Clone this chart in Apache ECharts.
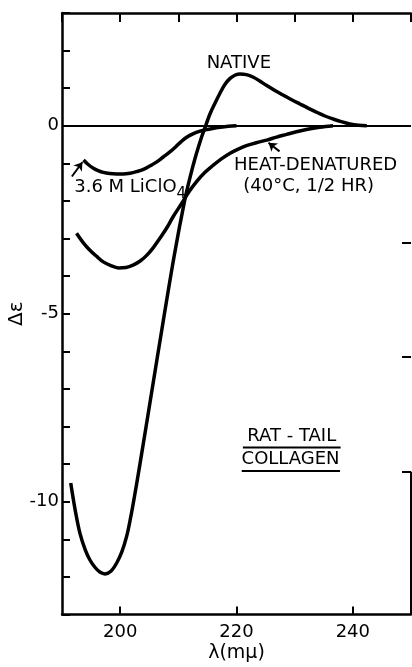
<!DOCTYPE html>
<html><head><meta charset="utf-8">
<script src="https://cdn.jsdelivr.net/npm/echarts@6/dist/echarts.min.js"></script>
<style>html,body{margin:0;padding:0;background:#fff}#c{width:412px;height:667px}</style>
</head><body><div id="c"></div>
<script>
// ---- data ----
const nativeWl = [191.5,192.3,193.1,194.0,194.8,195.7,196.5,197.4,198.4,199.4,200.3,201.1,201.7,202.3,203.4,205.4,207.4,209.3,211.1,212.0,213.0,214.0,214.7,215.4,216.3,217.2,218.0,218.9,219.8,220.6,221.7,222.9,224.0,225.2,226.6,228.0,229.4,230.9,232.3,233.8,235.2,236.6,238.0,239.5,241.0,242.4];
const nativeDe = [-9.5,-10.25,-10.85,-11.28,-11.55,-11.75,-11.87,-11.92,-11.85,-11.63,-11.33,-10.93,-10.5,-10.0,-9.0,-7.1,-5.2,-3.45,-1.98,-1.38,-0.8,-0.3,0.0,0.3,0.6,0.88,1.1,1.26,1.35,1.38,1.36,1.29,1.19,1.07,0.94,0.82,0.70,0.58,0.47,0.36,0.26,0.18,0.11,0.05,0.015,0];

const heatWl = [192.5,193.6,194.8,196.0,197.1,198.4,199.7,201.0,202.3,203.5,204.6,205.7,206.8,208.0,209.1,210.6,211.8,213.1,214.5,216.0,217.4,218.9,220.3,221.7,223.4,225.2,226.9,228.6,230.3,232.0,234.3,236.6];
const heatDe = [-2.86,-3.1,-3.31,-3.48,-3.62,-3.72,-3.78,-3.77,-3.70,-3.59,-3.44,-3.24,-3.0,-2.72,-2.42,-2.06,-1.76,-1.49,-1.25,-1.05,-0.88,-0.73,-0.62,-0.53,-0.45,-0.38,-0.30,-0.23,-0.16,-0.10,-0.04,0];

const licl4Wl = [193.7,194.5,195.4,196.2,197.1,198.2,199.4,200.5,201.7,202.8,204.0,205.1,206.3,207.4,208.6,209.6,210.5,211.5,212.6,213.6,214.6,215.9,217.2,218.6,220.0];
const licl4De = [-0.91,-1.03,-1.13,-1.19,-1.24,-1.27,-1.28,-1.28,-1.26,-1.22,-1.16,-1.07,-0.96,-0.83,-0.69,-0.55,-0.42,-0.30,-0.21,-0.15,-0.11,-0.07,-0.04,-0.015,0];

const xTickLabels = [200,220,240];
const yTickLabels = [0,-5,-10];
const rightTicks = [-3.1,-6.15,-9.2];

// annotation anchors in data coordinates
const notes = [
  {text:'NATIVE', x:220.4, y:1.66, align:'center'},
  {text:'HEAT-DENATURED', x:233.6, y:-1.05, align:'center'},
  {text:'(40°C, 1/2 HR)', x:232.4, y:-1.62, align:'center'},
  {text:'3.6 M LiClO', x:192.1, y:-1.63, align:'left', sub:'4'},
  {text:'RAT - TAIL', x:229.5, y:-8.27, align:'center', underline:[221.1,237.9,-8.56]},
  {text:'COLLAGEN', x:229.3, y:-8.86, align:'center', underline:[220.9,237.8,-9.18]}
];

const FONT = 'DejaVu Sans';
const BLACK = '#000';
const pair = (xs, ys) => xs.map((x, i) => [x, ys[i]]);

const chart = echarts.init(document.getElementById('c'), null, {renderer:'canvas'});
const axLine = {show:true, onZero:false, lineStyle:{color:BLACK, width:2.5}};
const tickStyle = {color:BLACK, width:2};

const curve = (name, xs, ys, extra) => Object.assign({
  name, type:'line', data:pair(xs, ys), showSymbol:false, smooth:0.35,
  lineStyle:{color:BLACK, width:3.5}, silent:true, z:3
}, extra || {});

const option = {
  animation:false,
  backgroundColor:'#fff',
  grid:{left:62, right:1, top:13, bottom:52.5, containLabel:false, outerBoundsMode:'none'},
  xAxis:[
    {type:'value', position:'bottom', min:190, max:250,
     axisLine:axLine,
     axisTick:{show:true, inside:true, length:8, customValues:xTickLabels, lineStyle:tickStyle},
     axisLabel:{customValues:xTickLabels, color:BLACK, fontFamily:FONT, fontSize:18, margin:9},
     splitLine:{show:false},
     name:'λ(mμ)', nameLocation:'middle', nameGap:29, nameMoveOverlap:false,
     nameTextStyle:{color:BLACK, fontFamily:FONT, fontSize:19}},
    {type:'value', position:'top', min:190, max:250, interval:10,
     axisLine:axLine,
     axisTick:{show:true, inside:true, length:9, lineStyle:tickStyle},
     axisLabel:{show:false}, splitLine:{show:false}}
  ],
  yAxis:[
    {type:'value', position:'left', min:-13, max:3, interval:1,
     axisLine:axLine,
     axisTick:{show:true, inside:true, length:8, lineStyle:tickStyle},
     axisLabel:{customValues:yTickLabels, color:BLACK, fontFamily:FONT, fontSize:18, margin:3},
     splitLine:{show:false},
     name:'Δε', nameLocation:'middle', nameGap:35, nameRotate:90, nameMoveOverlap:false,
     nameTextStyle:{color:BLACK, fontFamily:FONT, fontSize:20}},
    {type:'value', position:'right', min:-13, max:3,
     axisLine:{show:false},
     axisTick:{show:true, inside:true, length:9, customValues:rightTicks, lineStyle:tickStyle},
     axisLabel:{show:false}, splitLine:{show:false}}
  ],
  series:[
    curve('Native', nativeWl, nativeDe, {
      markLine:{silent:true, animation:false, label:{show:false},
        lineStyle:{color:BLACK, width:2, type:'solid'}, symbol:['none','none'],
        data:[
          {yAxis:0},
          [{coord:[250,-9.2]},{coord:[250,-13]}]
        ]}
    }),
    curve('Heat-denatured', heatWl, heatDe, {
      markLine:{silent:true, animation:false, label:{show:false},
        lineStyle:{color:BLACK, width:2, type:'solid', curveness:0.3},
        symbol:['none','arrow'], symbolSize:8,
        data:[[{coord:[227.4,-0.68]},{coord:[225.5,-0.45]}]]}
    }),
    curve('3.6 M LiClO4', licl4Wl, licl4De, {
      markLine:{silent:true, animation:false, label:{show:false},
        lineStyle:{color:BLACK, width:2, type:'solid', curveness:-0.3},
        symbol:['none','arrow'], symbolSize:8,
        data:[[{coord:[191.7,-1.35]},{coord:[193.5,-0.97]}]]}
    })
  ]
};
chart.setOption(option);

const measure = document.createElement('canvas').getContext('2d');
const px = (x, y) => chart.convertToPixel({xAxisIndex:0, yAxisIndex:0}, [x, y]);
const graphics = [];
notes.forEach(n => {
  const p = px(n.x, n.y);
  const font = '18px "' + FONT + '"';
  graphics.push({type:'text', x:p[0], y:p[1], silent:true,
    style:{text:n.text, fill:BLACK, font, textAlign:n.align, textVerticalAlign:'middle'}});
  if (n.sub) {
    measure.font = font;
    const w = measure.measureText(n.text).width;
    graphics.push({type:'text', x:p[0] + w, y:p[1] + 7, silent:true,
      style:{text:n.sub, fill:BLACK, font:'15px "' + FONT + '"', textAlign:'left', textVerticalAlign:'middle'}});
  }
  if (n.underline) {
    const a = px(n.underline[0], n.underline[2]);
    const b = px(n.underline[1], n.underline[2]);
    graphics.push({type:'line', silent:true, shape:{x1:a[0], y1:a[1], x2:b[0], y2:b[1]},
      style:{stroke:BLACK, lineWidth:2}});
  }
});
chart.setOption({graphic:graphics});
</script>
</body></html>
